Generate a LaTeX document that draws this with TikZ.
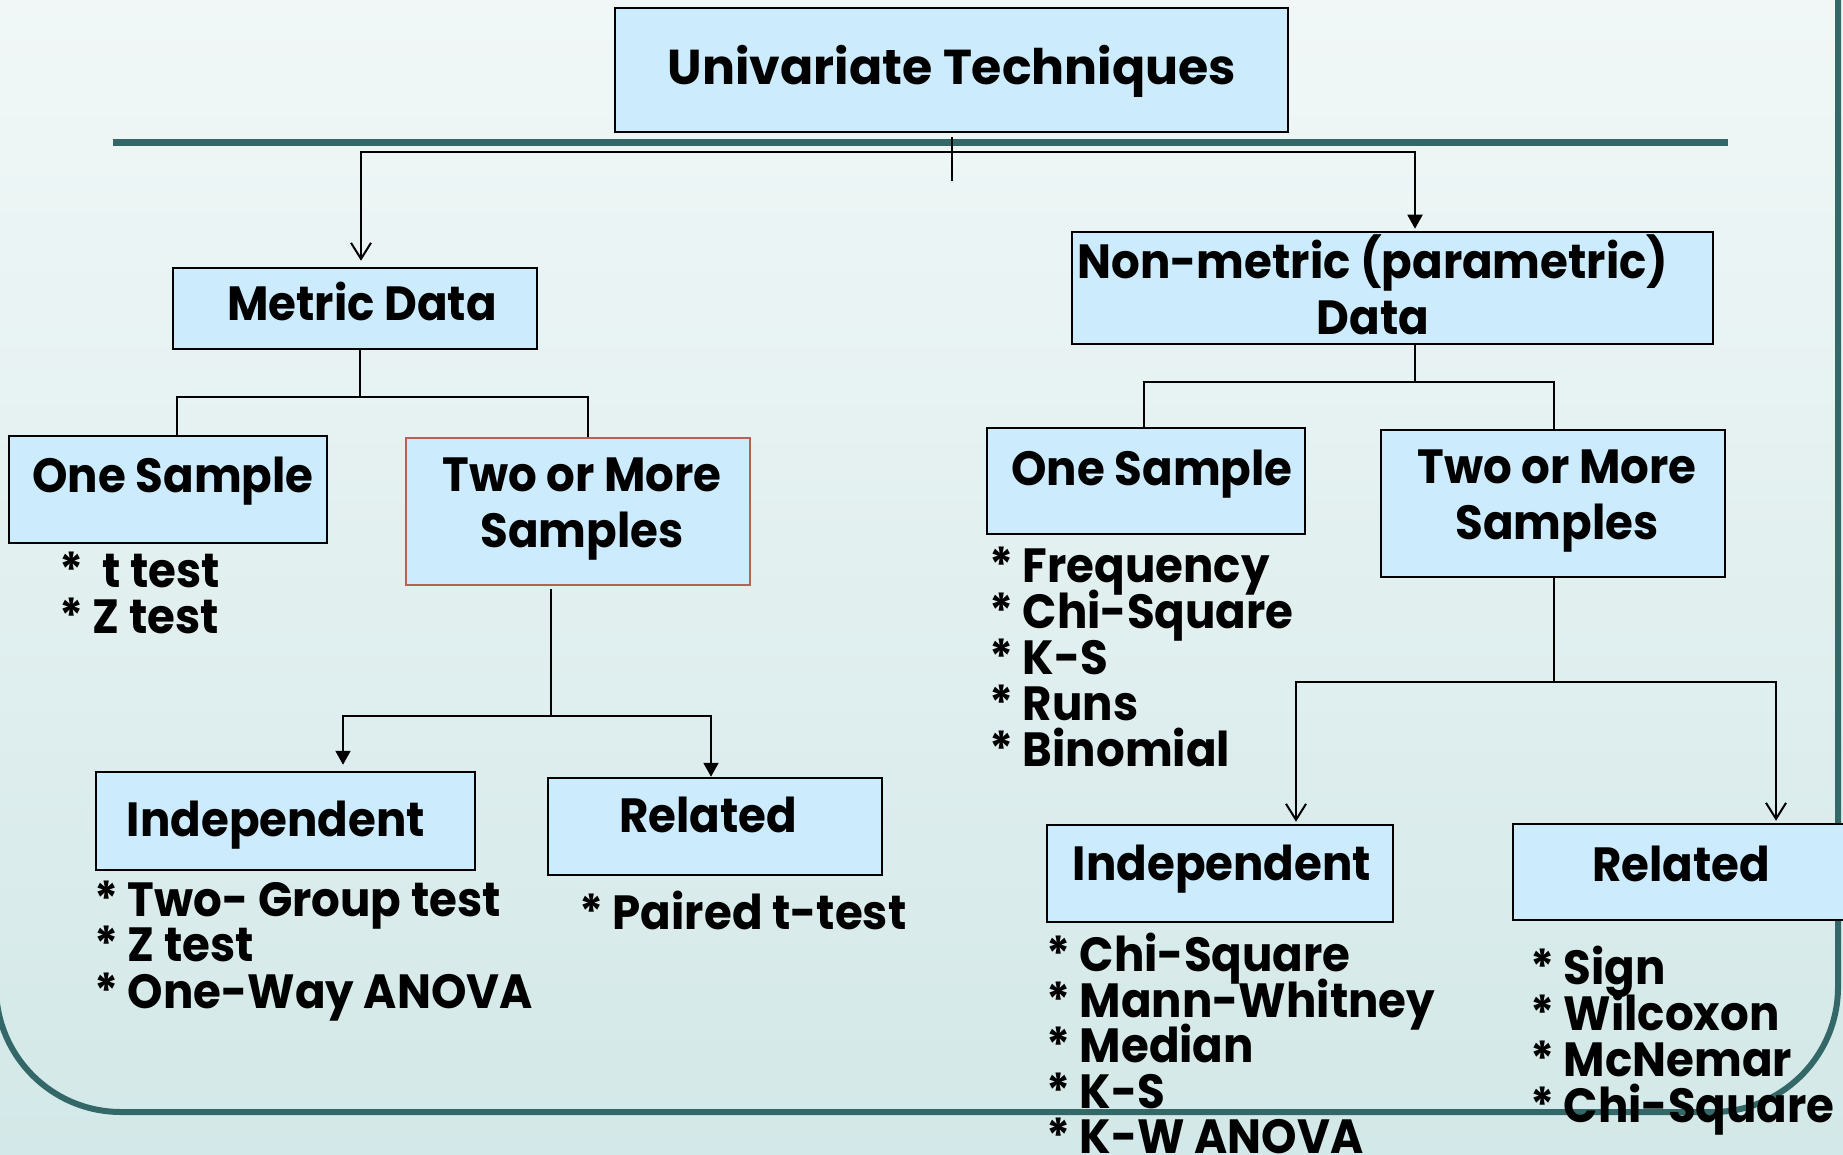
\documentclass[tikz,border=0pt]{standalone}
\usepackage{fontspec}
\setmainfont{Poppins}
\newfontfamily\narrowfont{Poppins}[FakeStretch=0.94]
\usetikzlibrary{arrows.meta}
\definecolor{boxfill}{RGB}{204,235,252}
\definecolor{tealline}{RGB}{52,104,104}
\definecolor{redline}{RGB}{185,95,85}
\definecolor{bgtop}{RGB}{241,247,247}
\definecolor{bgbot}{RGB}{211,232,232}
\begin{document}
\begin{tikzpicture}[x=1pt,y=-1pt,
  box/.style={draw=black, line width=2.5pt, fill=boxfill, inner sep=0pt},
  redbox/.style={box, draw=redline, line width=2pt},
  title/.style={font=\bfseries\fontsize{49}{56}\selectfont, inner sep=0pt, text height=34pt, text depth=0pt},
  lbl/.style={font=\narrowfont\bfseries\fontsize{48}{56}\selectfont, inner sep=0pt, text height=34pt, text depth=0pt},
  lbltwo/.style={font=\narrowfont\bfseries\fontsize{48}{56}\selectfont, inner sep=0pt, align=center},
  item/.style={lbl, anchor=west},
  conn/.style={draw=black, line width=2pt},
  tri/.style={conn, -{Triangle[length=14pt,width=15pt]}},
  barb/.style={conn, -{Straight Barb[length=16pt,width=20pt]}},
  frame/.style={draw=tealline, line width=6pt}
]
\useasboundingbox (0,0) rectangle (1843,1155);
\clip (0,0) rectangle (1843,1155);
\shade[top color=bgtop, bottom color=bgbot] (0,0) rectangle (1843,1155);
% frame
\draw[frame, rounded corners=125pt] (-4,-200) rectangle (1838,1112);
% top bar
\draw[draw=tealline, line width=7pt] (113,142.5) -- (1728,142.5);

% boxes
\node[box, minimum width=673pt, minimum height=124pt] (univ) at (951.5,70) {};
\node[title] (univ-t) at (952,68) {Univariate Techniques};

\node[box, minimum width=364pt, minimum height=81pt] (metric) at (355,308.5) {};
\node[lbl] (metric-t) at (362,303) {Metric Data};

\node[box, minimum width=641pt, minimum height=112pt] (nonmetric) at (1392.5,288) {};
\node[lbltwo] (nonmetric-t) at (1373,285) {Non-metric (parametric)\\Data};

\node[box, minimum width=318pt, minimum height=107pt] (os1) at (168,489.5) {};
\node[lbl] (os1-t) at (173,475) {One Sample};

\node[redbox, minimum width=344pt, minimum height=147pt] (tm1) at (578,511.5) {};
\node[lbltwo] (tm1-t) at (582,509.5) {Two or More\\Samples};

\node[box, minimum width=379pt, minimum height=98pt] (ind1) at (285.5,821) {};
\node[lbl] (ind1-t) at (276,819) {Independent};

\node[box, minimum width=334pt, minimum height=97pt] (rel1) at (715,826.5) {};
\node[lbl] (rel1-t) at (708,815) {Related};

\node[box, minimum width=318pt, minimum height=106pt] (os2) at (1146,481) {};
\node[lbl] (os2-t) at (1152,468) {One Sample};

\node[box, minimum width=344pt, minimum height=147pt] (tm2) at (1553,503.5) {};
\node[lbltwo] (tm2-t) at (1557,501.5) {Two or More\\Samples};

\node[box, minimum width=346pt, minimum height=97pt] (ind2) at (1220,873.5) {};
\node[lbl] (ind2-t) at (1222,863) {Independent};

\node[box, minimum width=357pt, minimum height=96pt] (rel2) at (1691.5,872) {};
\node[lbl] (rel2-t) at (1681,864) {Related};

% bullet lists
\node[item] (l1-1) at (59,570) {*\ \ t test};
\node[item] (l1-2) at (59,616) {* Z test};

\node[item] (l2-1) at (94,899) {* Two- Group test};
\node[item] (l2-2) at (94,944) {* Z test};
\node[item] (l2-3) at (94,991) {* One-Way ANOVA};

\node[item] (l3-1) at (579,912) {* Paired t-test};

\node[item] (l4-1) at (989,565) {* Frequency};
\node[item] (l4-2) at (989,611) {* Chi-Square};
\node[item] (l4-3) at (989,657) {* K-S};
\node[item] (l4-4) at (989,703) {* Runs};
\node[item] (l4-5) at (989,749) {* Binomial};

\node[item] (l5-1) at (1046,954) {* Chi-Square};
\node[item] (l5-2) at (1046,1000) {* Mann-Whitney};
\node[item] (l5-3) at (1046,1045) {* Median};
\node[item] (l5-4) at (1046,1091) {* K-S};
\node[item] (l5-5) at (1046,1136) {* K-W ANOVA};

\node[item] (l6-1) at (1530,967) {* Sign};
\node[item] (l6-2) at (1530,1013) {* Wilcoxon};
\node[item] (l6-3) at (1530,1059) {* McNemar};
\node[item] (l6-4) at (1530,1105) {* Chi-Square};

% connectors
\coordinate (j0) at (952,152);
\draw[conn] ([yshift=-4pt]univ.south) -- ++(0,44);
\draw[barb] (j0) -| ([xshift=6pt,yshift=6pt]metric.north);
\draw[tri] (j0) -| ([xshift=22.5pt,yshift=2pt]nonmetric.north);

\coordinate (m0) at (360,397);
\draw[conn] ([xshift=5pt]metric.south) -- (m0);
\draw[conn] (m0) -| ([xshift=9pt]os1.north);
\draw[conn] (m0) -| ([xshift=10pt]tm1.north);

\coordinate (t0) at (551,716);
\draw[conn] ([xshift=-27pt,yshift=-3pt]tm1.south) -- (t0);
\draw[tri] (t0) -| ([xshift=57.5pt,yshift=6pt]ind1.north);
\draw[tri] (t0) -| ([xshift=-4pt]rel1.north);

\coordinate (n0) at (1415,382);
\draw[conn] ([xshift=22.5pt]nonmetric.south) -- (n0);
\draw[conn] (n0) -| ([xshift=-2pt]os2.north);
\draw[conn] (n0) -| ([xshift=1pt]tm2.north);

\coordinate (u0) at (1554,682);
\draw[conn] ([xshift=1pt]tm2.south) -- (u0);
\draw[barb] (u0) -| ([xshift=76pt,yshift=2pt]ind2.north);
\draw[barb] (u0) -| ([xshift=84.5pt,yshift=2pt]rel2.north);
\end{tikzpicture}
\end{document}
